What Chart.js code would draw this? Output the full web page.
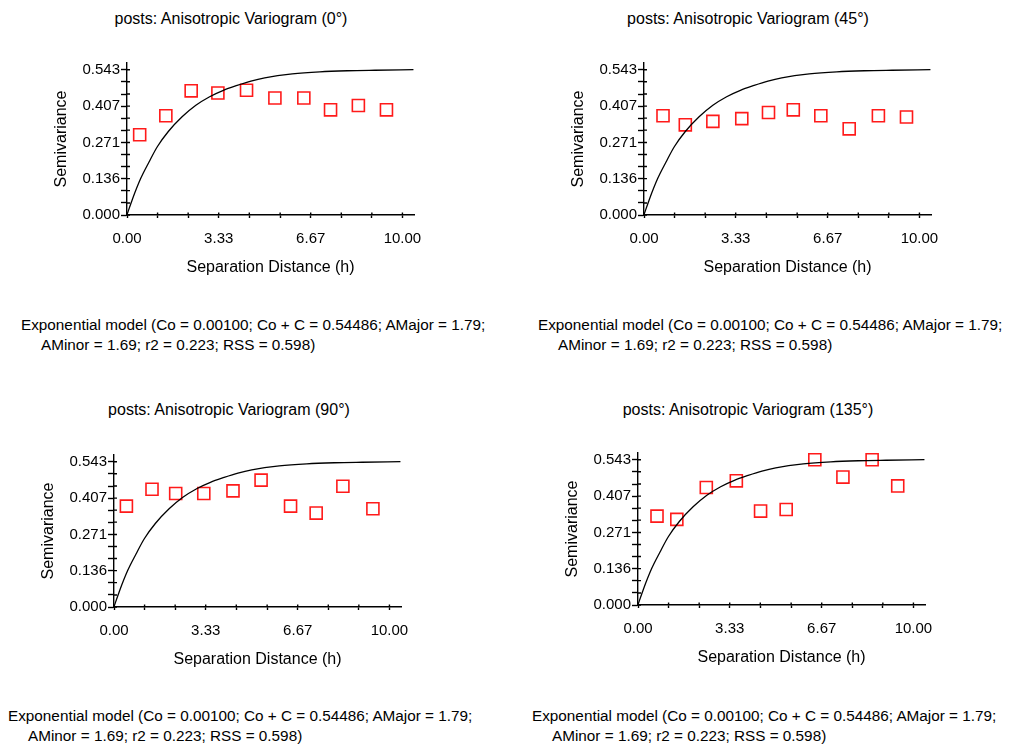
<!DOCTYPE html>
<html>
<head>
<meta charset="utf-8">
<script src="https://cdn.jsdelivr.net/npm/chart.js@4/dist/chart.umd.min.js"></script>
<style>
  html, body { margin: 0; padding: 0; background: #fff; overflow: hidden; }
  body { width: 1011px; height: 744px; position: relative; font-family: "Liberation Sans", Arial, sans-serif; color: #000; }
  .box { position: absolute; width: 460px; height: 300px; }
  .ttl { position: absolute; font-size: 16px; white-space: nowrap; transform: translate(-50%, -50%); }
  .cap { position: absolute; font-size: 15.3px; line-height: 20px; white-space: nowrap; }
  .cap span { display: block; }
  .cap span + span { padding-left: 20px; }
</style>
</head>
<body>

<div class="ttl" style="left:231px; top:19px;">posts: Anisotropic Variogram (0°)</div>
<div class="ttl" style="left:748px; top:19px;">posts: Anisotropic Variogram (45°)</div>
<div class="ttl" style="left:229px; top:410px;">posts: Anisotropic Variogram (90°)</div>
<div class="ttl" style="left:748px; top:410px;">posts: Anisotropic Variogram (135°)</div>

<div class="box" style="left:0px; top:0px;"><canvas id="c0"></canvas></div>
<div class="box" style="left:517px; top:0px;"><canvas id="c45"></canvas></div>
<div class="box" style="left:-13px; top:392px;"><canvas id="c90"></canvas></div>
<div class="box" style="left:511px; top:390px;"><canvas id="c135"></canvas></div>

<div class="cap" style="left:21px; top:315px;"><span>Exponential model (Co = 0.00100; Co + C = 0.54486; AMajor = 1.79;</span><span>AMinor = 1.69; r2 = 0.223; RSS = 0.598)</span></div>
<div class="cap" style="left:538px; top:315px;"><span>Exponential model (Co = 0.00100; Co + C = 0.54486; AMajor = 1.79;</span><span>AMinor = 1.69; r2 = 0.223; RSS = 0.598)</span></div>
<div class="cap" style="left:8px; top:706px;"><span>Exponential model (Co = 0.00100; Co + C = 0.54486; AMajor = 1.79;</span><span>AMinor = 1.69; r2 = 0.223; RSS = 0.598)</span></div>
<div class="cap" style="left:532px; top:706px;"><span>Exponential model (Co = 0.00100; Co + C = 0.54486; AMajor = 1.79;</span><span>AMinor = 1.69; r2 = 0.223; RSS = 0.598)</span></div>

<script>
// ================= DATA =================
const xTickValues = [0, 1.11, 2.22, 3.33, 4.44, 5.56, 6.67, 7.78, 8.89, 10];
const xTickLabels = ["0.00", "", "", "3.33", "", "", "6.67", "", "", "10.00"];
const yTickValues = [0, 0.045, 0.091, 0.136, 0.181, 0.226, 0.271, 0.317, 0.362, 0.407, 0.452, 0.498, 0.543];
const yTickLabels = ["0.000", "", "", "0.136", "", "", "0.271", "", "", "0.407", "", "", "0.543"];

// experimental semivariogram (lag distance / semivariance)
const lag0 = [0.46, 1.41, 2.33, 3.30, 4.34, 5.37, 6.42, 7.39, 8.40, 9.42];
const gamma0 = [0.300, 0.371, 0.464, 0.456, 0.466, 0.437, 0.437, 0.393, 0.409, 0.393];
const lag45 = [0.69, 1.50, 2.50, 3.55, 4.52, 5.42, 6.42, 7.45, 8.51, 9.53];
const gamma45 = [0.371, 0.337, 0.350, 0.360, 0.383, 0.393, 0.371, 0.322, 0.371, 0.366];
const lag90 = [0.45, 1.38, 2.24, 3.26, 4.32, 5.34, 6.41, 7.34, 8.31, 9.40];
const gamma90 = [0.377, 0.440, 0.424, 0.424, 0.434, 0.474, 0.377, 0.351, 0.451, 0.367];
const lag135 = [0.69, 1.41, 2.48, 3.57, 4.45, 5.38, 6.42, 7.44, 8.50, 9.43];
const gamma135 = [0.332, 0.320, 0.439, 0.464, 0.351, 0.357, 0.543, 0.478, 0.543, 0.445];

// fitted model curve
const modelLag = [0, 0.2, 0.5, 0.8, 1.1, 1.5, 2, 2.5, 3, 3.5, 4, 4.5, 5, 6, 7, 8, 9, 10.4];
const modelGamma = [0.001, 0.060, 0.137, 0.198, 0.255, 0.312, 0.367, 0.410, 0.442, 0.466, 0.484, 0.500, 0.512, 0.527, 0.535, 0.539, 0.541, 0.543];

const X_MAX = 10.42;
const Y_MAX = 0.568;

Chart.defaults.font.family = '"Liberation Sans", Arial, sans-serif';
Chart.defaults.color = "#000";

// tick marks that cross the axis line (inner part)
const crossTicks = {
    id: "crossTicks",
    afterDraw(chart) {
        const ctx = chart.ctx;
        const a = chart.chartArea;
        const xs = chart.scales.x;
        const ys = chart.scales.y;
        ctx.save();
        ctx.strokeStyle = "#000";
        ctx.lineWidth = 1.4;
        ctx.beginPath();
        xs.ticks.forEach(t => {
            const px = xs.getPixelForValue(t.value);
            ctx.moveTo(px, a.bottom);
            ctx.lineTo(px, a.bottom - 2.5);
        });
        ys.ticks.forEach(t => {
            const py = ys.getPixelForValue(t.value);
            ctx.moveTo(a.left, py);
            ctx.lineTo(a.left + 3, py);
        });
        ctx.stroke();
        ctx.restore();
    }
};

function toPoints(xs, ys) {
    return xs.map((x, i) => ({ x: x, y: ys[i] }));
}

function makeChart(id, lags, gammas) {
    return new Chart(document.getElementById(id), {
        type: "scatter",
        data: {
            datasets: [
                {
                    type: "line",
                    label: "Model",
                    data: toPoints(modelLag, modelGamma),
                    borderColor: "#000",
                    borderWidth: 1.3,
                    pointRadius: 0,
                    cubicInterpolationMode: "monotone",
                    fill: false
                },
                {
                    label: "Semivariance",
                    data: toPoints(lags, gammas),
                    pointStyle: "rect",
                    pointRadius: 8.5,
                    pointBorderColor: "#ff1a1a",
                    pointBackgroundColor: "rgba(0,0,0,0)",
                    pointBorderWidth: 1.6
                }
            ]
        },
        options: {
            responsive: true,
            maintainAspectRatio: false,
            animation: false,
            layout: { padding: { left: 0, top: 63, right: 46, bottom: 0 } },
            plugins: {
                legend: { display: false },
                tooltip: { enabled: false }
            },
            scales: {
                x: {
                    type: "linear",
                    min: 0,
                    max: X_MAX,
                    afterBuildTicks: s => { s.ticks = xTickValues.map(v => ({ value: v })); },
                    afterFit: s => { s.height = 85; },
                    ticks: {
                        font: { size: 15 },
                        padding: 12,
                        maxRotation: 0,
                        autoSkip: false,
                        callback: (v, i) => xTickLabels[i]
                    },
                    grid: { drawOnChartArea: false, drawTicks: true, tickLength: 3, tickColor: "#000", tickWidth: 1.4 },
                    border: { display: true, color: "#000", width: 1.4 },
                    title: { display: true, text: "Separation Distance (h)", font: { size: 16 }, padding: { top: 0, bottom: 23 } }
                },
                y: {
                    type: "linear",
                    min: 0,
                    max: Y_MAX,
                    afterBuildTicks: s => { s.ticks = yTickValues.map(v => ({ value: v })); },
                    afterFit: s => { s.width = 127; },
                    ticks: {
                        font: { size: 15 },
                        padding: 1,
                        autoSkip: false,
                        callback: (v, i) => yTickLabels[i]
                    },
                    grid: { drawOnChartArea: false, drawTicks: true, tickLength: 6, tickColor: "#000", tickWidth: 1.4 },
                    border: { display: true, color: "#000", width: 1.4 },
                    title: { display: true, text: "Semivariance", font: { size: 16 }, padding: { top: 52, bottom: 0 } }
                }
            }
        },
        plugins: [crossTicks]
    });
}

makeChart("c0", lag0, gamma0);
makeChart("c45", lag45, gamma45);
makeChart("c90", lag90, gamma90);
makeChart("c135", lag135, gamma135);
</script>
</body>
</html>
